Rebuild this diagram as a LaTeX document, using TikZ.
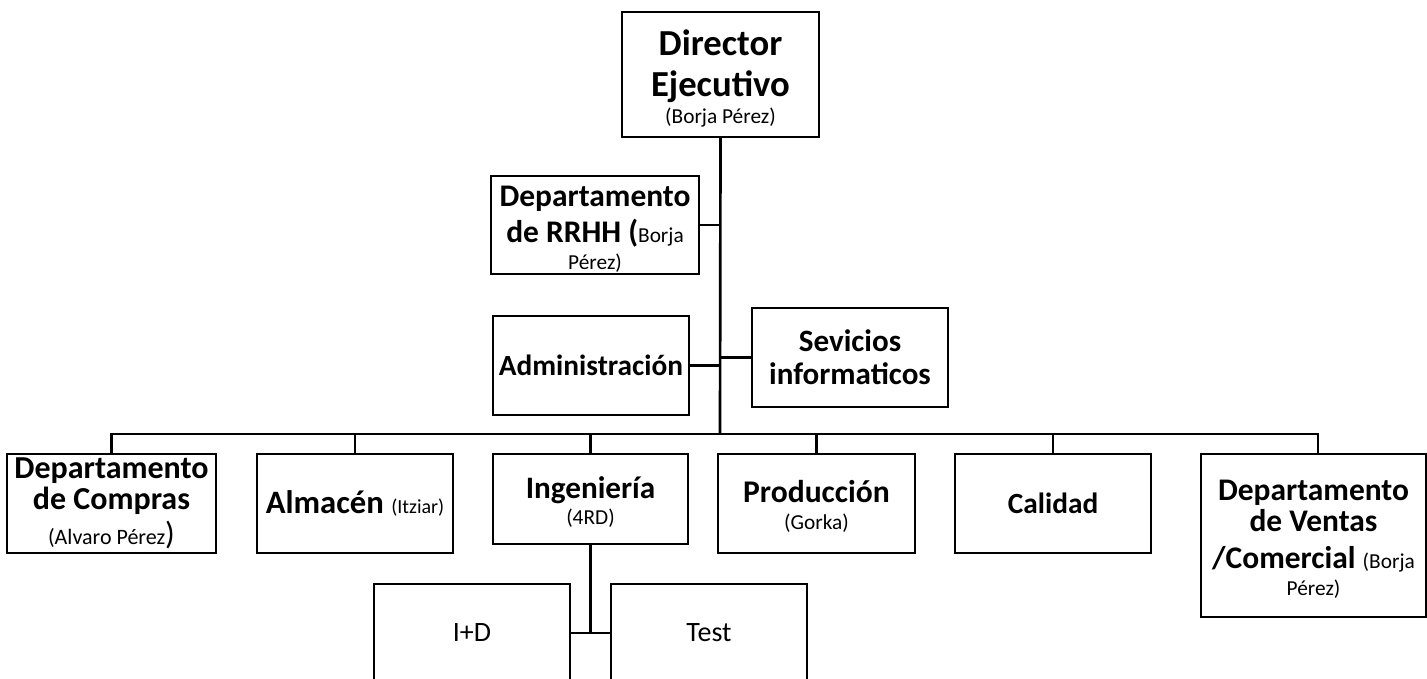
\documentclass[tikz,border=0pt]{standalone}
\usepackage{fontspec}
\setmainfont{Carlito}
% font size helpers: bold headings and regular names
\newcommand\fsz[2]{\fontsize{#1}{#2}\selectfont}
\newcommand\hd[1]{\fsz{#1}{23.25}\bfseries}
\newcommand\sn{\fsz{16}{20}\mdseries}
% taller first line, to sit multi-line texts a little lower in their boxes
\newcommand\tp{\rule{0pt}{0.9em}}
\tikzset{
  box/.style={draw, line width=1.3pt, inner sep=0pt, align=flush center},
  org/.style 2 args={box, text width=#1, minimum height=#2},
  link/.style={line width=2pt}
}
\begin{document}
\begin{tikzpicture}[x=0.75pt, y=-0.75pt]
\useasboundingbox (0,0) rectangle (1427,678);
\fill[white] (0,0) rectangle (1427,678);
\clip (0,0) rectangle (1427,678);

% top of the chart
\node[org={147.75pt}{93.75pt}, font=\fsz{27.5}{30.75}\bfseries] (dir) at (720.5,74.5)
  {\tp Director\\Ejecutivo\\\sn(Borja Pérez)\par};
\node[org={156pt}{73.5pt}, font=\fsz{23.6}{27}\bfseries] (rrhh) at (595,225)
  {\tp Departamento\\de RRHH ({\sn Borja}\\\sn Pérez)\par};
\node[org={147pt}{74.25pt}, font=\hd{22}] (adm) at (591,365.5) {Administración};
\node[org={147pt}{74.25pt}, font=\fsz{23.3}{24.75}\bfseries] (srv) at (850,357.5)
  {Sevicios\\informaticos};

% departments
\node[org={156.75pt}{74.25pt}, font=\hd{24}] (cmp) at (111.5,503.5)
  {Departamento\\de Compras\\[3pt]{\fsz{16.5}{20}\mdseries(Alvaro Pérez}{\mdseries)}};
\node[org={147pt}{74.25pt}, font=\hd{24.5}] (alm) at (355,503.5)
  {Almacén {\fsz{15}{20}\mdseries(Itziar)}};
\node[org={146.25pt}{67.5pt}, font=\hd{23.4}] (ing) at (590.5,499)
  {\tp Ingeniería\\\sn(4RD)\par};
\node[org={147.75pt}{74.25pt}, font=\hd{23.7}] (pro) at (816.5,503.5)
  {\tp Producción\\\sn(Gorka)\par};
\node[org={147pt}{74.25pt}, font=\hd{22}] (cal) at (1053,503.5) {Calidad};
\node[org={168.75pt}{122.25pt}, font=\hd{23.6}] (vnt) at (1313.5,535.5)
  {\tp Departamento\\de Ventas\\[4.5pt]/Comercial {\sn(Borja}\\\sn Pérez)\par};

% engineering teams
\node[org={147pt}{73.5pt}, font=\fsz{21}{25}] (id) at (472,633) {I+D};
\node[org={147pt}{73.5pt}, font=\fsz{21}{25}] (tst) at (709,633) {Test};

% connectors
\coordinate (bus) at (720,434);
\draw[link] (dir.south) -- (bus);
\draw[link] (rrhh.east) -- (rrhh.east -| bus);
\draw[link] (adm.east) -- (adm.east -| bus);
\draw[link] (srv.west) -- (srv.west -| bus);
\foreach \n in {cmp,alm,ing,pro,cal}
  \draw[link] (bus) -| (\n.north);
\draw[link] (bus) -| ([xshift=3.4pt]vnt.north);
\coordinate (sub) at (ing.south |- id.east);
\draw[link] (ing.south) -- (sub);
\draw[link] (id.east) -- (tst.west);
\end{tikzpicture}
\end{document}
